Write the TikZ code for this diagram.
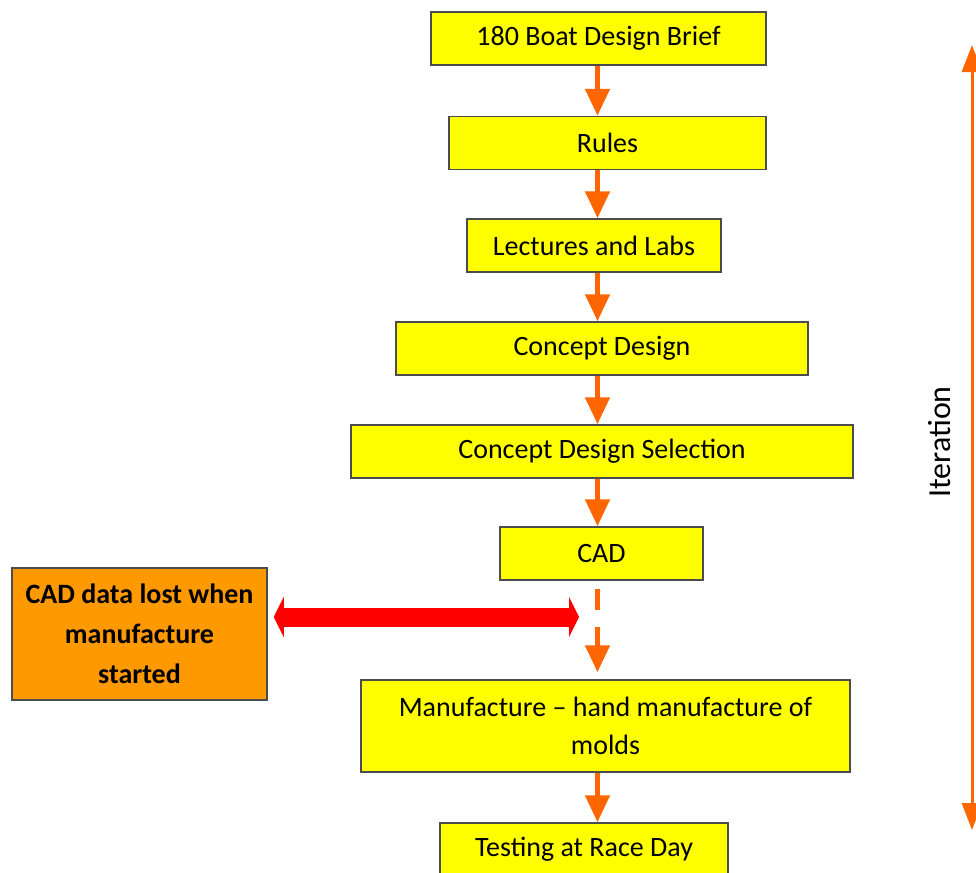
\documentclass[tikz,border=0pt]{standalone}
\usepackage{fontspec}
\setmainfont{Carlito}
\usetikzlibrary{arrows.meta}
\definecolor{stageyellow}{HTML}{FFFF00}
\definecolor{noteorange}{HTML}{FF9900}
\definecolor{floworange}{HTML}{FF6600}
\tikzset{%
  stage/.style    = {shape=rectangle, draw=black!70, line width=0.75pt,%
                     fill=stageyellow, inner sep=0pt, align=center,%
                     minimum height=26.5pt, font=\fontsize{14}{19}\selectfont},%
  note/.style     = {stage, fill=noteorange,%
                     font=\bfseries\fontsize{14}{20}\selectfont},%
  flow/.style     = {draw=floworange, line width=2.5pt,%
                     -{Triangle[width=12pt,length=13.5pt]}},%
  lostlink/.style = {draw=red, line width=9.5pt,%
                     {Triangle[width=20pt,length=5pt]}-{Triangle[width=20pt,length=5pt]}},%
  loop/.style     = {draw=floworange, line width=1.5pt,%
                     {Triangle[width=10pt,length=13.5pt]}-{Triangle[width=10pt,length=13.5pt]}}%
}

\begin{document}
\begin{tikzpicture}[x=0.5pt,y=-0.5pt]
	\useasboundingbox (0,0) rectangle (976,873);
	% main stages
	\node [stage, minimum width=167.5pt] (brief)   at (598.5,38.5) {180 Boat Design Brief};
	\node [stage, minimum width=158.5pt] (rules)   at (607.5,143)  {Rules};
	\node [stage, minimum width=127pt]   (lect)    at (594,245.5)  {Lectures and Labs};
	\node [stage, minimum width=206pt]   (concept) at (602,348.5)  {Concept Design};
	\node [stage, minimum width=251pt]   (select)  at (602,451.5)  {Concept Design Selection};
	\node [stage, minimum width=101.5pt] (cad)     at (601.5,553.5){CAD};
	\node [stage, minimum width=244.5pt, minimum height=46pt] (make) at (605.5,726)
		{Manufacture -- hand manufacture of\\molds};
	\node [stage, minimum width=144pt]   (race)    at (584,849.5)  {Testing at Race Day};
	\node [note, minimum width=127.5pt, minimum height=66pt] (lost) at (139.5,634)
		{CAD data lost when\\manufacture\\started};
	\coordinate (axis) at (597.5,0);
	% flow down the stages
	\draw [flow] (brief.south -| axis) -- (rules.north -| axis);
	\draw [flow] (rules.south -| axis) -- (lect.north -| axis);
	\draw [flow] (lect.south -| axis) -- (concept.north -| axis);
	\draw [flow] (concept.south -| axis) -- (select.north -| axis);
	\draw [flow] (select.south -| axis) -- (cad.north -| axis);
	\draw [flow, dash pattern=on 10.5pt off 8.5pt, shorten <=4pt, shorten >=3.5pt]
		(cad.south -| axis) -- (make.north -| axis);
	\draw [flow] (make.south -| axis) -- (race.north -| axis);
	% lost data link
	\coordinate (gap) at (579,617);
	\draw [lostlink, shorten <=3pt] (lost.east |- gap) -- (gap);
	% iteration
	\coordinate (itertop) at (972,45);
	\coordinate (iterbot) at (972,830);
	\draw [loop] (itertop) -- (iterbot);
	\node [rotate=90, font=\fontsize{16}{19}\selectfont] (iterlabel) at (940,442) {Iteration};
\end{tikzpicture}
\end{document}
